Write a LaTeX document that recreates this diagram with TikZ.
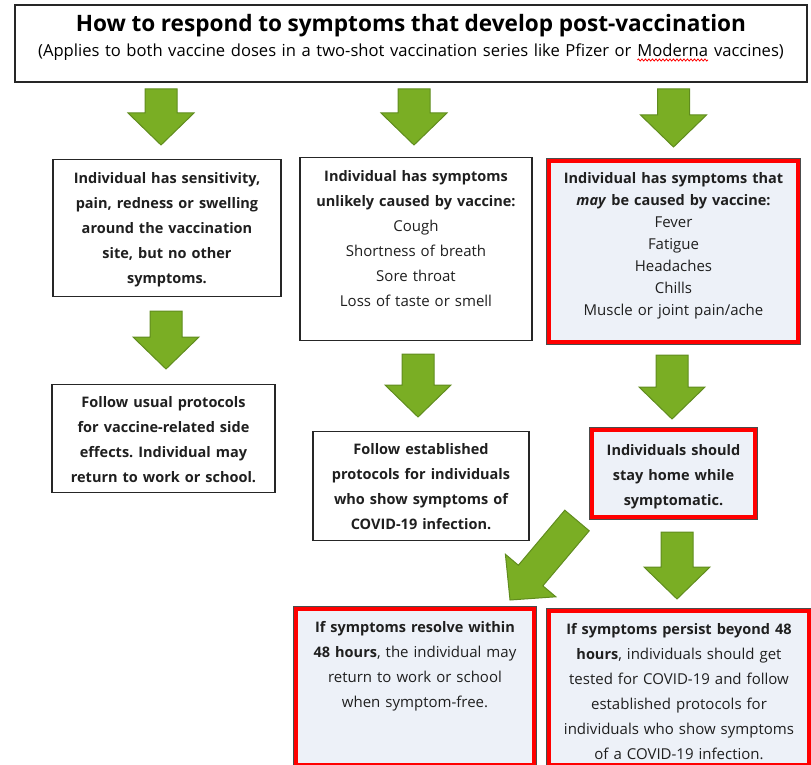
\documentclass[tikz,border=0pt]{standalone}
\usepackage{fontspec}
\setmainfont{Open Sans}
\usepackage{tikz}
\usetikzlibrary{positioning}
\usetikzlibrary{calc}
\usetikzlibrary{decorations.pathmorphing}
\frenchspacing
\definecolor{arrowgreen}{RGB}{122,174,36}
\definecolor{arrowedge}{RGB}{96,140,30}
\definecolor{boxred}{RGB}{255,0,0}
\definecolor{boxfill}{RGB}{237,241,248}
\tikzstyle{arrowbody} = [fill=arrowgreen, draw=arrowedge, line width=1pt, line join=miter]
\tikzstyle{box} = [draw=black!85, line width=1.2pt, fill=white, inner sep=0pt,
anchor=north, align=center, text=black!88, font=\fontsize{15}{25}\selectfont]
\tikzstyle{redbox} = [box, draw=boxred, line width=4pt, fill=boxfill,
preaction={draw=black!70, line width=5.4pt}]
%% bold heading words, a little smaller than the plain text
\newcommand{\hd}[1]{{\fontsize{14.5}{25}\selectfont\bfseries #1}}
%% big green block arrow from #1 to its tip #2
\newcommand{\blockarrow}[2]{%
  \coordinate (as) at #1;
  \coordinate (ae) at #2;
  \coordinate (ab) at ($(ae)!32pt!(as)$);
  \path [arrowbody] ($(as)!16pt!90:(ae)$) -- ($(ab)!16pt!90:(ae)$)
    -- ($(ab)!33pt!90:(ae)$) -- (ae) -- ($(ab)!33pt!-90:(ae)$)
    -- ($(ab)!16pt!-90:(ae)$) -- ($(as)!16pt!-90:(ae)$) -- cycle;
}
%% red spell-check wave under a word
\newcommand{\squiggle}[1]{\tikz[baseline=(sq.base)]{\node [inner sep=0pt, outer sep=0pt] (sq) {#1};
  \draw [boxred, line width=0.8pt, decorate, decoration={snake, amplitude=1pt, segment length=3.5pt}]
  ([yshift=-3pt]sq.base west) -- ([yshift=-3pt]sq.base east);}}
\begin{document}
\begin{tikzpicture}[x=1pt, y=1pt]
		\useasboundingbox (0,0) rectangle (811,-765);
		\clip (0,0) rectangle (811,-765);
		%% title
		\node [box, line width=2pt, text width=792pt, text height=27pt, text depth=50pt,
			font=\fontsize{16.6}{25}\selectfont, text=black] (title) at (411,-4)
			{{\fontsize{22.6}{25}\selectfont\bfseries How to respond to symptoms that develop post-vaccination}\\
			(Applies to both vaccine doses in a two-shot vaccination series like Pfizer or
			\squiggle{Moderna} vaccines)};
		%% first row
		\node [box, text width=228pt, text height=23.5pt, text depth=113.5pt] (b1) at (167,-159)
			{\hd{Individual has sensitivity,}\\ \hd{pain, redness or swelling}\\
			\hd{around the vaccination}\\ \hd{site, but no other}\\ \hd{symptoms.}};
		\node [box, text width=232pt, text height=23.5pt, text depth=159.5pt] (b2) at (416,-157)
			{\hd{Individual has symptoms}\\ \hd{unlikely caused by vaccine:}\\
			Cough\\ Shortness of breath\\ Sore throat\\ Loss of taste or smell};
		\node [redbox, text width=249pt, text height=22.5pt, text depth=158.5pt,
			font=\fontsize{15}{22}\selectfont] (b3) at (673.5,-159)
			{\hd{Individual has symptoms that}\\ \hd{\textit{may} be caused by vaccine:}\\
			Fever\\ Fatigue\\ Headaches\\ Chills\\ Muscle or joint pain/ache};
		%% second row
		\node [box, text width=223pt, text height=22.5pt, text depth=85.5pt] (b4) at (163.5,-384)
			{\hd{Follow usual protocols}\\ \hd{for vaccine-related side}\\
			\hd{effects. Individual may}\\ \hd{return to work or school.}};
		\node [box, text width=216pt, text height=22.5pt, text depth=86.5pt] (b5) at (421,-431)
			{\hd{Follow established}\\ \hd{protocols for individuals}\\
			\hd{who show symptoms of}\\ \hd{COVID-19 infection.}};
		\node [redbox, text width=163pt, text height=25.5pt, text depth=61.5pt] (b6) at (673.5,-428)
			{\hd{Individuals should}\\ \hd{stay home while}\\ \hd{symptomatic.}};
		%% last row
		\node [redbox, text width=238pt, text height=23.5pt, text depth=132.5pt] (b7) at (415,-607)
			{\hd{If symptoms resolve within}\\ \hd{48 hours}, the individual may\\
			return to work or school\\ when symptom-free.};
		\node [redbox, text width=260pt, text height=23.5pt, text depth=130.5pt] (b8) at (679,-609)
			{\hd{If symptoms persist beyond 48}\\ \hd{hours}, individuals should get\\
			tested for COVID-19 and follow\\ established protocols for\\
			individuals who show symptoms\\ of a COVID-19 infection.};
		%% arrows
		\blockarrow{($(title.south -| b1.north)+(-6,-6)$)}{($(b1.north)+(-6,14)$)}
		\blockarrow{($(title.south -| b2.north)+(-2,-6)$)}{($(b2.north)+(-2,12)$)}
		\blockarrow{($(title.south -| b3.north)+(0,-6)$)}{($(b3.north)+(0,12)$)}
		\blockarrow{($(b1.south)+(-1,-14)$)}{($(b1.south |- b4.north)+(-1,15)$)}
		\blockarrow{($(b2.south)+(2,-13)$)}{($(b2.south |- b5.north)+(2,14)$)}
		\blockarrow{($(b3.south)+(-1.5,-11)$)}{($(b3.south |- b6.north)+(-1.5,9)$)}
		\blockarrow{($(b6.south west)+(-13,-1.5)$)}{($(b7.north east)+(-26,7)$)}
		\blockarrow{($(b6.south)+(3.5,-13)$)}{($(b6.south |- b8.north)+(3.5,10)$)}
	\end{tikzpicture}
\end{document}
